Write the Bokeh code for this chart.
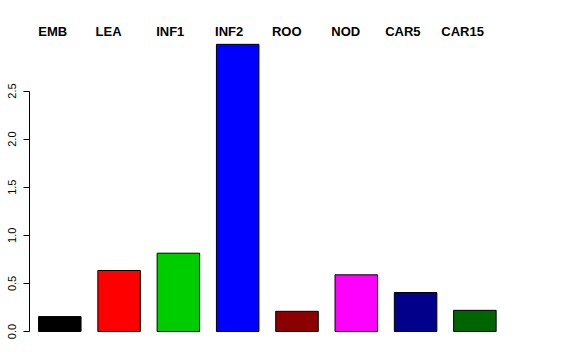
from bokeh.plotting import figure
from bokeh.models import Range1d, FixedTicker, PrintfTickFormatter, ColumnDataSource
from bokeh.core.properties import value
from bokeh.embed import file_html
from bokeh.resources import INLINE

# data
categories = ["EMB", "LEA", "INF1", "INF2", "ROO", "NOD", "CAR5", "CAR15"]
values = [0.155, 0.634, 0.814, 2.985, 0.21, 0.589, 0.405, 0.22]
colors = ["#000000", "#FF0000", "#00CD00", "#0000FF", "#8B0000", "#FF00FF", "#00008B", "#006400"]
y_ticks = [0.0, 0.5, 1.0, 1.5, 2.0, 2.5]

# layout (label positions, in bar-index units)
label_x = [-0.119, 0.823, 1.862, 2.856, 3.827, 4.822, 5.785, 6.792]
label_y = 3.12

p = figure(width=576, height=360, output_backend="svg", toolbar_location=None,
           x_range=Range1d(-0.511, 8.545), y_range=Range1d(-0.1247, 3.3368),
           min_border_left=29, min_border_right=10, min_border_top=10, min_border_bottom=17,
           x_axis_location=None)
p.outline_line_color = None
p.xgrid.visible = False
p.ygrid.visible = False
p.background_fill_color = "white"
p.border_fill_color = "white"

src = ColumnDataSource(dict(x=list(range(len(categories))), top=values, color=colors))
p.vbar(x="x", top="top", bottom=0, width=0.717, fill_color="color",
       line_color="#000000", line_width=1, source=src)

lsrc = ColumnDataSource(dict(x=label_x, y=[label_y] * len(categories), t=categories))
p.text(x="x", y="y", text="t", source=lsrc, text_align="center", text_baseline="middle",
       text_font=value("Liberation Sans"), text_font_style="bold", text_font_size="13px",
       text_color="#000000")

ax = p.yaxis[0]
ax.ticker = FixedTicker(ticks=y_ticks)
ax.formatter = PrintfTickFormatter(format="%.1f")
ax.bounds = (0, 2.5)
ax.major_label_orientation = "vertical"
ax.major_label_text_font = "Liberation Sans"
ax.major_label_text_font_size = "11px"
ax.major_label_text_color = "#000000"
ax.major_label_standoff = 7
ax.major_tick_out = 6
ax.major_tick_in = 0
ax.minor_tick_out = 0
ax.minor_tick_in = 0
ax.axis_line_color = "#000000"
ax.major_tick_line_color = "#000000"

open("out.html", "w").write(file_html(p, INLINE))
